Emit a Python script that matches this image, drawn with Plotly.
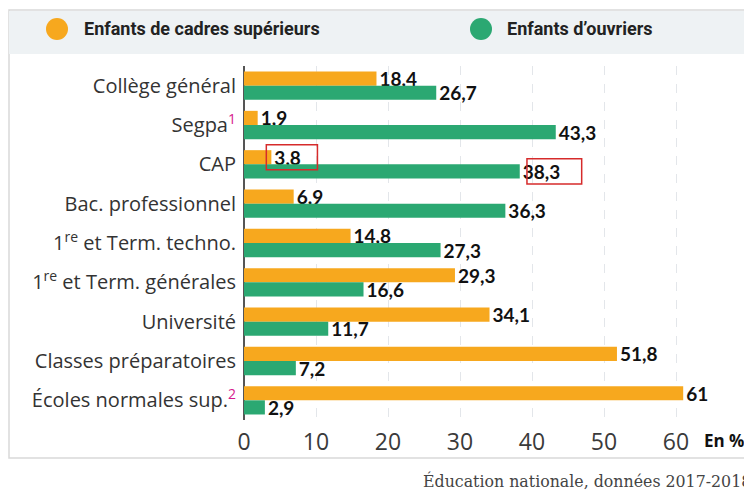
import plotly.graph_objects as go

categories = [
    "Collège général",
    "Segpa<sup><span style='color:#d6198c'>1</span></sup>",
    "CAP",
    "Bac. professionnel",
    "1<sup>re</sup> et Term. techno.",
    "1<sup>re</sup> et Term. générales",
    "Université",
    "Classes préparatoires",
    "Écoles normales sup.<sup><span style='color:#d6198c'>2</span></sup>",
]
cadres = [18.4, 1.9, 3.8, 6.9, 14.8, 29.3, 34.1, 51.8, 61]
ouvriers = [26.7, 43.3, 38.3, 36.3, 27.3, 16.6, 11.7, 7.2, 2.9]
tick_vals = [0, 10, 20, 30, 40, 50, 60]
series_names = ["Enfants de cadres supérieurs", "Enfants d’ouvriers"]
highlight_cat = "CAP"

ORANGE = "#F7A81E"
GREEN = "#2BA872"
LABEL_FONT = "Open Sans"

def fmt(v):
    return f"{v:g}".replace(".", ",")

fig = go.Figure()
for name, vals, col in [(series_names[0], cadres, ORANGE), (series_names[1], ouvriers, GREEN)]:
    fig.add_trace(go.Bar(
        y=categories, x=vals, orientation="h", name=name,
        marker=dict(color=col, line=dict(width=0)),
        text=[fmt(v) for v in vals], textposition="outside",
        constraintext="none",
        textfont=dict(family="Lato", size=19, color="#111111", weight="bold"),
        cliponaxis=False, showlegend=False,
    ))

# page geometry (page body has an 8px margin)
OFF = 8
W, H = 752 - OFF, 490 - OFF
PL, PR, PT, PB = 244, 712, 66, 420          # plot area in page pixels
L, T = PL - OFF, PT - OFF
R, B = W - (PR - OFF), H - (PB - OFF)
pw, ph = PR - PL, PB - PT
def px(x): return (x - PL) / pw
def py(y): return (PB - y) / ph

shapes = []
# outer frame
shapes.append(dict(type="rect", xref="paper", yref="paper",
                   x0=px(9), x1=px(770), y0=py(458), y1=py(10),
                   line=dict(color="#d9d9d9", width=1.5), fillcolor="rgba(0,0,0,0)", layer="below"))
# legend box
shapes.append(dict(type="rect", xref="paper", yref="paper",
                   x0=px(9), x1=px(748), y0=py(54), y1=py(11),
                   line=dict(width=0), fillcolor="#eef2f4", layer="below"))
# legend dots
for cx, col in [(57, ORANGE), (481, GREEN)]:
    shapes.append(dict(type="circle", xref="paper", yref="paper",
                       x0=px(cx - 11), x1=px(cx + 11), y0=py(40), y1=py(18),
                       fillcolor=col, line=dict(width=0)))

# red highlight boxes around CAP labels
ci = categories.index(highlight_cat)
for vals, off, dx0, dx1 in [(cadres, -0.18, -0.7, 6.4), (ouvriers, 0.18, 1.0, 8.6)]:
    v = vals[ci]
    shapes.append(dict(type="rect", xref="x", yref="y",
                       x0=v + dx0, x1=v + dx1, y0=ci + off - 0.32, y1=ci + off + 0.32,
                       line=dict(color="#d62b2b", width=1.5)))

LEG_FONT = "Roboto"
annotations = [
    dict(xref="paper", yref="paper", x=px(82), y=py(29), xanchor="left", yanchor="middle",
         text="<b>Enfants de cadres supérieurs</b>", showarrow=False,
         font=dict(family=LEG_FONT, size=18, color="#222")),
    dict(xref="paper", yref="paper", x=px(505), y=py(29), xanchor="left", yanchor="middle",
         text="<b>Enfants d’ouvriers</b>", showarrow=False,
         font=dict(family=LEG_FONT, size=18, color="#222")),
    dict(xref="paper", yref="paper", x=px(702), y=py(440), xanchor="left", yanchor="middle",
         text="<b>En %</b>", showarrow=False,
         font=dict(family=LABEL_FONT, size=17, color="#111")),
    dict(xref="paper", yref="paper", x=px(421), y=py(481), xanchor="left", yanchor="middle",
         text="Éducation nationale, données 2017-2018", showarrow=False,
         font=dict(family="DejaVu Serif", size=15.8, color="#444")),
]

fig.update_layout(
    width=W, height=H,
    margin=dict(l=L, r=R, t=T, b=B, pad=0, autoexpand=False),
    paper_bgcolor="white", plot_bgcolor="white",
    barmode="group", bargap=0.28, bargroupgap=0.0,
    separators=", ",
    shapes=shapes, annotations=annotations,
    showlegend=False,
    font=dict(family=LABEL_FONT, color="#333"),
)
fig.update_xaxes(range=[0, pw / 7.2], tickvals=tick_vals, automargin=False,
                 showgrid=True, gridcolor="#e3e6ea", griddash="dash", gridwidth=1,
                 zeroline=True, zerolinecolor="#555", zerolinewidth=1.5,
                 showline=False, ticks="", ticklabelstandoff=6,
                 tickfont=dict(family=LABEL_FONT, size=23, color="#3a3a3a"))
fig.update_yaxes(autorange="reversed", showgrid=False, showline=False, ticks="",
                 ticklabelstandoff=7, automargin=False,
                 tickfont=dict(family=LABEL_FONT, size=20, color="#333"))

fig.write_html("out.html")
